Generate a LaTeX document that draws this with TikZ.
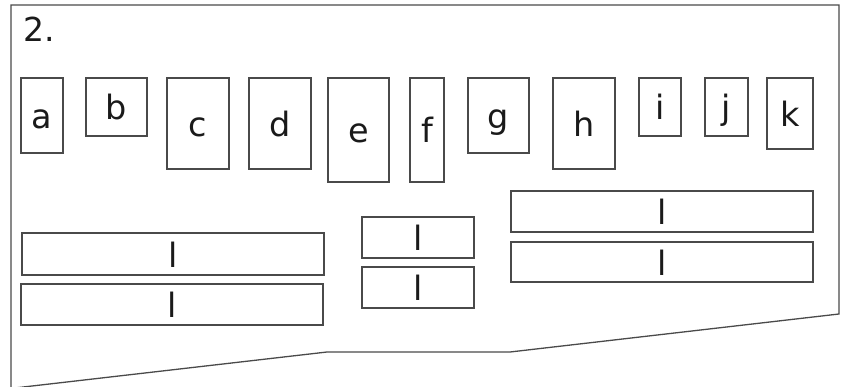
\documentclass[tikz,border=0pt]{standalone}
\usepackage{fontspec}
\setmainfont{DejaVu Sans}
\definecolor{edge}{HTML}{4A4A4A}
\definecolor{ink}{HTML}{1A1A1A}
\begin{document}
\begin{tikzpicture}[x=1pt,y=-1pt,
  box/.style={draw=edge, line width=1.2pt, rectangle, inner sep=0pt,
    text height=26pt, text depth=0pt, text=ink,
    font=\fontsize{33.5}{40}\selectfont},
  outline/.style={draw=edge, line width=1.3pt, line join=miter}]
\useasboundingbox (0,0) rectangle (845,387);
\clip (0,0) rectangle (845,387);
% outline
\draw[outline] (11,400) -- (11,5) -- (839,5) -- (839,314) -- (510,352) -- (327,352) -- (-20,392);
% title
\node[anchor=base west, inner sep=0pt, text=ink, font=\fontsize{33}{40}\selectfont] (title) at (23.5,42) {2.};
% top boxes
\node[box, minimum width=42pt, minimum height=75pt]  (a) at (42,115.5) {a};
\node[box, minimum width=61pt, minimum height=58pt]  (b) at (116.5,107) {b};
\node[box, minimum width=62pt, minimum height=91pt]  (c) at (198,123.5) {c};
\node[box, minimum width=62pt, minimum height=91pt]  (d) at (280,123.5) {d};
\node[box, minimum width=61pt, minimum height=104pt] (e) at (358.5,130) {e};
\node[box, minimum width=34pt, minimum height=104pt] (f) at (427,130) {f};
\node[box, minimum width=61pt, minimum height=75pt]  (g) at (498.5,115.5) {g};
\node[box, minimum width=62pt, minimum height=91pt]  (h) at (584,123.5) {h};
\node[box, minimum width=42pt, minimum height=58pt]  (i) at (660,107) {i};
\node[box, minimum width=43pt, minimum height=58pt]  (j) at (726.5,107) {j};
\node[box, minimum width=46pt, minimum height=71pt]  (k) at (790,113.5) {k};
% bars
\node[box, minimum width=302pt, minimum height=42pt] (l1) at (173,254) {l};
\node[box, minimum width=302pt, minimum height=41pt] (l2) at (172,304.5) {l};
\node[box, minimum width=112pt, minimum height=41pt] (m1) at (418,237.5) {l};
\node[box, minimum width=112pt, minimum height=41pt] (m2) at (418,287.5) {l};
\node[box, minimum width=302pt, minimum height=41pt] (r1) at (662,211.5) {l};
\node[box, minimum width=302pt, minimum height=40pt] (r2) at (662,262) {l};
\end{tikzpicture}
\end{document}
